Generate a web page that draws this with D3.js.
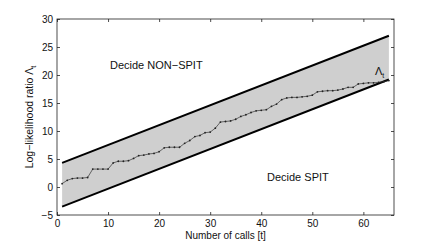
<!DOCTYPE html>
<html><head><meta charset="utf-8">
<script src="https://cdn.jsdelivr.net/npm/d3@7"></script>
<style>
html,body{margin:0;padding:0;background:#fff;}
svg{display:block;font-family:"Liberation Sans",Arial,Helvetica,sans-serif;}
</style></head>
<body><svg id="c" width="436" height="243"></svg>
<script>
// ---- data ----
const calls = d3.range(1, 66); // t = 1..65
const lambda = [0.6,1.2,1.5,1.6,1.6,1.7,3.2,3.2,3.2,3.2,
  4.3,4.6,4.6,4.7,5.1,5.6,5.7,5.9,6.0,6.3,
  7.0,7.1,7.1,7.1,7.8,8.3,9.0,9.2,9.7,9.8,
  10.5,11.6,11.7,11.8,12.1,12.6,12.9,13.3,13.6,13.7,
  13.8,14.4,14.8,15.6,15.9,16.0,16.0,16.1,16.2,16.4,
  17.0,17.1,17.2,17.2,17.3,17.5,17.8,17.8,18.4,18.5,
  18.6,18.6,18.7,18.8,19.0];
const boundT = [1, 65];
const upperBound = [4.3, 27.0];
const lowerBound = [-3.5, 19.2];
const xTicks = [0,10,20,30,40,50,60];
const yTicks = [-5,0,5,10,15,20,25,30];

// ---- layout ----
const svg = d3.select("#c");
const L = 57, R = 394, T = 19, B = 215;
const x = d3.scaleLinear().domain([0,66]).range([L,R]);
const y = d3.scaleLinear().domain([-5,30]).range([B,T]);

// shaded band
const band = boundT.map((t,i)=>({t, lo: lowerBound[i], hi: upperBound[i]}));
svg.append("path").datum(band)
  .attr("fill","#cfcfcf")
  .attr("d", d3.area().x(d=>x(d.t)).y0(d=>y(d.lo)).y1(d=>y(d.hi)));

// boundary lines
[upperBound, lowerBound].forEach(arr=>{
  svg.append("path").datum(boundT.map((t,i)=>[t,arr[i]]))
    .attr("fill","none").attr("stroke","#000").attr("stroke-width",2)
    .attr("d", d3.line().x(d=>x(d[0])).y(d=>y(d[1])));
});

// data line
const pts = calls.map((t,i)=>[t,lambda[i]]);
svg.append("path").datum(pts)
  .attr("fill","none").attr("stroke","#333").attr("stroke-width",0.7)
  .attr("d", d3.line().x(d=>x(d[0])).y(d=>y(d[1])));
svg.append("g").selectAll("circle").data(pts).join("circle")
  .attr("cx",d=>x(d[0])).attr("cy",d=>y(d[1])).attr("r",0.9)
  .attr("fill","#222");

// axes
const fmt = d3.format("d");
const minus = v => fmt(v).replace("-","\u2212");
svg.append("g").attr("transform",`translate(0,${B})`)
  .call(d3.axisBottom(x).tickValues(xTicks).tickSizeInner(-3).tickSizeOuter(0).tickPadding(5).tickFormat(minus));
svg.append("g").attr("transform",`translate(0,${T})`)
  .call(d3.axisTop(x).tickValues(xTicks).tickSizeInner(-3).tickSizeOuter(0).tickFormat(""));
svg.append("g").attr("transform",`translate(${L},0)`)
  .call(d3.axisLeft(y).tickValues(yTicks).tickSizeInner(-3).tickSizeOuter(0).tickPadding(4).tickFormat(minus));
svg.append("g").attr("transform",`translate(${R},0)`)
  .call(d3.axisRight(y).tickValues(yTicks).tickSizeInner(-3).tickSizeOuter(0).tickFormat(""));
svg.selectAll(".domain").remove();
svg.selectAll(".tick line").attr("stroke","#222").attr("stroke-width",0.8);
svg.selectAll(".tick text").attr("font-size",10).attr("fill","#111")
  .attr("font-family","'Liberation Sans',Arial,sans-serif");

// box
svg.append("rect").attr("x",L).attr("y",T).attr("width",R-L).attr("height",B-T)
  .attr("fill","none").attr("stroke","#222").attr("stroke-width",0.8);

// labels
svg.append("text").attr("x",(L+R)/2).attr("y",239).attr("text-anchor","middle")
  .attr("font-size",10).attr("fill","#111").text("Number of calls [t]");
const yl = svg.append("text").attr("transform",`translate(33,${(T+B)/2}) rotate(-90)`)
  .attr("text-anchor","middle").attr("font-size",10.5).attr("fill","#111");
yl.append("tspan").text("Log\u2212likelihood ratio \u039B");
yl.append("tspan").attr("font-size",7).attr("dy",3).text("t");

svg.append("text").attr("x",110).attr("y",69).attr("font-size",11).attr("fill","#111")
  .text("Decide NON\u2212SPIT");
svg.append("text").attr("x",267).attr("y",181).attr("font-size",11).attr("fill","#111")
  .text("Decide SPIT");
const lt = svg.append("text").attr("x",375).attr("y",75).attr("font-size",11).attr("fill","#111");
lt.append("tspan").text("\u039B");
lt.append("tspan").attr("font-size",7).attr("dy",3).text("t");
</script></body></html>
